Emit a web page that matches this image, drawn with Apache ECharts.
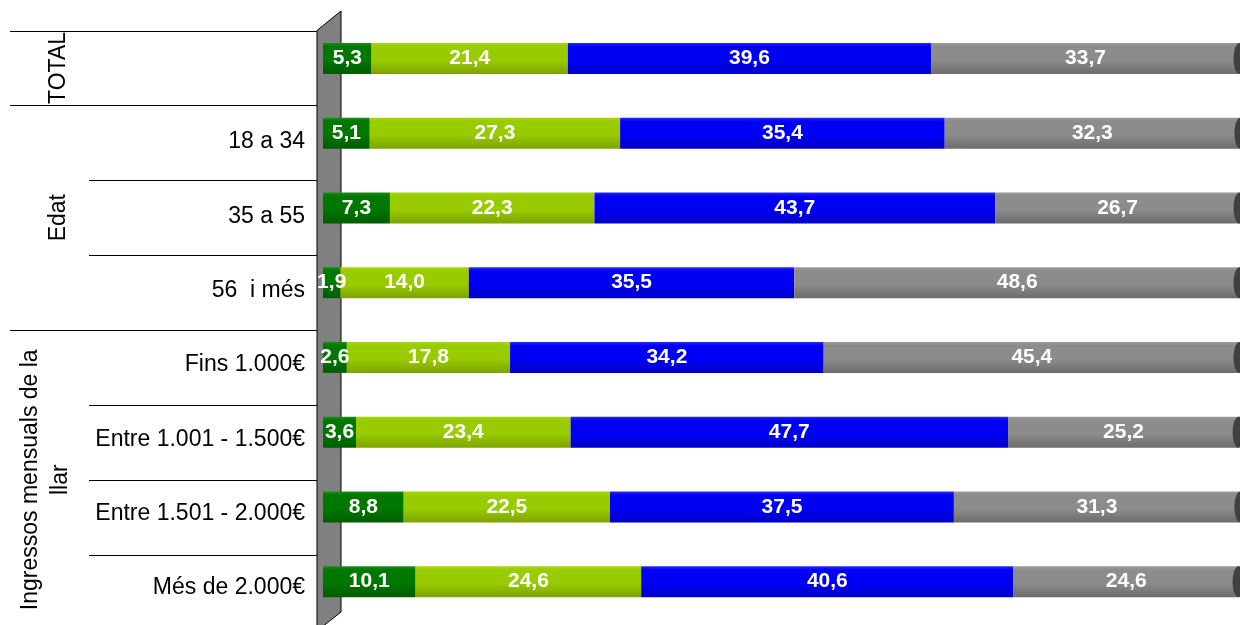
<!DOCTYPE html>
<html>
<head>
<meta charset="utf-8">
<style>html,body{margin:0;padding:0;background:#fff;}#c{width:1240px;height:625px;}</style>
<script src="https://cdn.jsdelivr.net/npm/echarts@6/dist/echarts.min.js"></script>
</head>
<body>
<div id="c"></div>
<script>
// ---- data ----
const categories = ['TOTAL', '18 a 34', '35 a 55', '56  i més', 'Fins 1.000€', 'Entre 1.001 - 1.500€', 'Entre 1.501 - 2.000€', 'Més de 2.000€'];
const rowLabels = ['', '18 a 34', '35 a 55', '56  i més', 'Fins 1.000€', 'Entre 1.001 - 1.500€', 'Entre 1.501 - 2.000€', 'Més de 2.000€'];
const serie1 = [5.3, 5.1, 7.3, 1.9, 2.6, 3.6, 8.8, 10.1];
const serie2 = [21.4, 27.3, 22.3, 14.0, 17.8, 23.4, 22.5, 24.6];
const serie3 = [39.6, 35.4, 43.7, 35.5, 34.2, 47.7, 37.5, 40.6];
const serie4 = [33.7, 32.3, 26.7, 48.6, 45.4, 25.2, 31.3, 24.6];
const groups = [
  {text: 'TOTAL', from: 0, to: 1},
  {text: 'Edat', from: 1, to: 4},
  {text: 'Ingressos mensuals de la\nllar', from: 4, to: 8}
];

// ---- layout ----
const gridLeft = 323;
const barTop = 21, barHeight = 598;
const labTop = 30.5, labHeight = 599;
const band = labHeight / categories.length;
const font = 'Arial, "Liberation Sans", sans-serif';

function grad(top, main, bottom) {
  return new echarts.graphic.LinearGradient(0, 0, 0, 1, [
    {offset: 0, color: top},
    {offset: 0.12, color: main},
    {offset: 0.55, color: main},
    {offset: 1, color: bottom}
  ]);
}
const colors = [
  grad('#1a8f1a', '#007800', '#005c00'),
  grad('#a8d60a', '#99cc00', '#7ea300'),
  grad('#2a2aff', '#0000f5', '#0000c8'),
  grad('#9a9a9a', '#8c8c8c', '#6c6c6c')
];
const seriesData = [serie1, serie2, serie3, serie4];

const totals = categories.map((c, i) => seriesData.reduce((s, arr) => s + arr[i], 0));

const series = seriesData.map((d, k) => ({
  type: 'bar',
  stack: 'all',
  xAxisIndex: 0,
  yAxisIndex: 0,
  barWidth: 31,
  data: d,
  itemStyle: {color: colors[k]},
  label: {
    show: true,
    position: 'inside',
    color: '#fff',
    fontWeight: 'bold',
    fontSize: 21,
    fontFamily: font,
    formatter: p => p.value.toFixed(1).replace('.', ',')
  },
  emphasis: {disabled: true},
  z: 3
}));

// dark end cap of each cylinder
series.push({
  type: 'custom',
  xAxisIndex: 0,
  yAxisIndex: 0,
  data: totals.map((t, i) => [t, i]),
  renderItem: function (params, api) {
    const p = api.coord([api.value(0), api.value(1)]);
    return {
      type: 'ellipse',
      shape: {cx: p[0] - 0.5, cy: p[1], rx: 6, ry: 15.5},
      style: {fill: '#404040'}
    };
  },
  z: 4,
  silent: true
});

// ---- graphic: wall, table lines, group labels ----
const graphics = [];
graphics.push({
  type: 'polygon',
  shape: {points: [[317, labTop], [341, 11], [341, 612], [317, 631]]},
  style: {fill: '#808080', stroke: '#000', lineWidth: 1},
  z: 0
});
const groupStarts = groups.map(g => g.from);
for (let k = 0; k < categories.length; k++) {
  const y = Math.round(labTop + band * k) + 0.5;
  const x0 = groupStarts.indexOf(k) >= 0 ? 10 : 89;
  graphics.push({
    type: 'line',
    shape: {x1: x0, y1: y, x2: 317, y2: y},
    style: {stroke: '#000', lineWidth: 1},
    z: 1
  });
}
groups.forEach(g => {
  const multi = g.text.indexOf('\n') >= 0;
  const cy = labTop + band * (g.from + g.to) / 2;
  graphics.push({
    type: 'text',
    x: multi ? 46 : 59,
    y: cy,
    rotation: Math.PI / 2,
    style: {
      text: g.text,
      fontSize: 23,
      fontFamily: font,
      fill: '#000',
      align: 'center',
      verticalAlign: 'middle',
      lineHeight: 30
    },
    z: 1
  });
});

const chart = echarts.init(document.getElementById('c'), null, {renderer: 'canvas'});
chart.setOption({
  animation: false,
  backgroundColor: '#fff',
  grid: [
    {left: gridLeft, right: 0, top: barTop, height: barHeight},
    {left: gridLeft, right: 0, top: labTop, height: labHeight}
  ],
  xAxis: [
    {type: 'value', gridIndex: 0, min: 0, max: 100, show: false},
    {type: 'value', gridIndex: 1, min: 0, max: 100, show: false}
  ],
  yAxis: [
    {type: 'category', gridIndex: 0, data: categories, inverse: true, show: false},
    {
      type: 'category', gridIndex: 1, data: rowLabels, inverse: true,
      axisLine: {show: false}, axisTick: {show: false}, splitLine: {show: false},
      axisLabel: {show: true, margin: 18, fontSize: 23, fontFamily: font, color: '#000', align: 'right'}
    }
  ],
  series: series,
  graphic: graphics
});
</script>
</body>
</html>
